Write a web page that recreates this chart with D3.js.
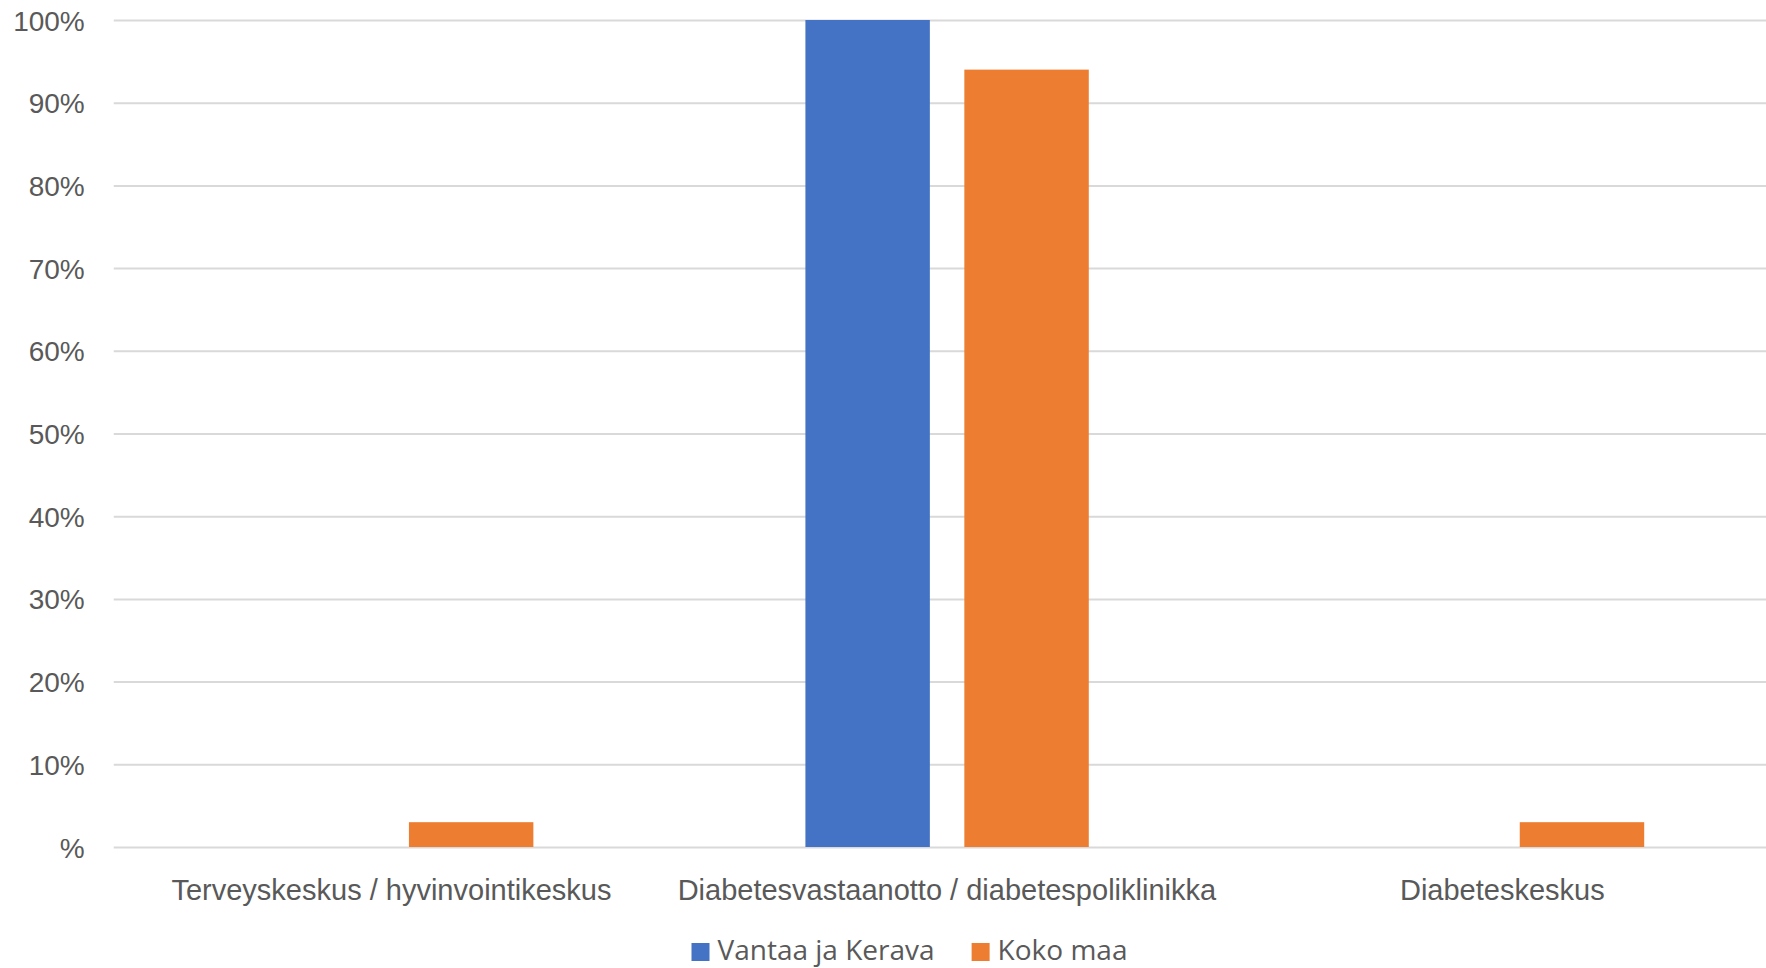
<!DOCTYPE html>
<html>
<head>
<meta charset="utf-8">
<script src="https://cdn.jsdelivr.net/npm/d3@7"></script>
<style>
html,body{margin:0;padding:0;background:#fff;overflow:hidden;}
svg{display:block;font-family:"Open Sans",sans-serif;}
</style>
</head>
<body>
<svg id="chart" width="1766" height="968"></svg>
<script>
const categories = ["Terveyskeskus / hyvinvointikeskus", "Diabetesvastaanotto / diabetespoliklinikka", "Diabeteskeskus"];
const seriesNames = ["Vantaa ja Kerava", "Koko maa"];
const vantaaKerava = [0, 100, 0];
const kokoMaa = [3, 94, 3];
const yTicks = [0, 10, 20, 30, 40, 50, 60, 70, 80, 90, 100];
const yTickLabels = ["%", "10%", "20%", "30%", "40%", "50%", "60%", "70%", "80%", "90%", "100%"];
const colors = ["#4472C4", "#ED7D31"];

const seriesValues = [vantaaKerava, kokoMaa];
const W = 1766, H = 968;
const plot = {left: 113.75, right: 1780, top: 20, bottom: 847};
const svg = d3.select("#chart");

const y = d3.scaleLinear().domain([0, 100]).range([plot.bottom, plot.top]);
const x0 = d3.scaleBand().domain(categories).range([plot.left, plot.right]).paddingInner(0).paddingOuter(0);
const bw0 = x0.bandwidth();
const x1 = d3.scaleBand().domain(seriesNames).range([bw0 * 0.2453, bw0 * 0.7555]).paddingInner(0.217);

// gridlines + y labels
const yAxis = d3.axisLeft(y).tickValues(yTicks)
  .tickFormat((d, i) => yTickLabels[i])
  .tickSize(-(W - plot.left)).tickPadding(29);
const gAx = svg.append("g").attr("transform", `translate(${plot.left},0)`).call(yAxis);
gAx.select(".domain").remove();
gAx.selectAll(".tick line").attr("stroke", "#d9d9d9").attr("stroke-width", 2);
gAx.selectAll(".tick text").attr("fill", "#595959").attr("font-size", 28).attr("dy", "0.36em");

// bars
const groups = svg.append("g").selectAll("g").data(categories).join("g")
  .attr("transform", d => `translate(${x0(d)},0)`);
groups.selectAll("rect")
  .data((c, ci) => seriesNames.map((s, si) => ({s, si, v: seriesValues[si][ci]})))
  .join("rect")
  .attr("x", d => x1(d.s))
  .attr("width", x1.bandwidth())
  .attr("y", d => y(d.v))
  .attr("height", d => y(0) - y(d.v))
  .attr("fill", d => colors[d.si]);

// category labels
const xAxis = d3.axisBottom(x0).tickSize(0).tickPadding(34);
const gx = svg.append("g").attr("transform", `translate(0,${plot.bottom})`).call(xAxis);
gx.select(".domain").remove();
gx.selectAll(".tick text").attr("fill", "#595959").attr("font-size", 29).attr("dy", "0.36em").attr("y", 43);

// legend
const legend = svg.append("g").attr("transform", "translate(691.5,950)");
let lx = 0;
seriesNames.forEach((s, i) => {
  legend.append("rect").attr("x", lx).attr("y", -7).attr("width", 18).attr("height", 18).attr("fill", colors[i]);
  const t = legend.append("text").attr("x", lx + 26).attr("y", 0).attr("dy", "0.36em")
    .attr("fill", "#595959").attr("font-size", 28).text(s);
  lx += 26 + t.node().getComputedTextLength() + 37;
});
</script>
</body>
</html>
